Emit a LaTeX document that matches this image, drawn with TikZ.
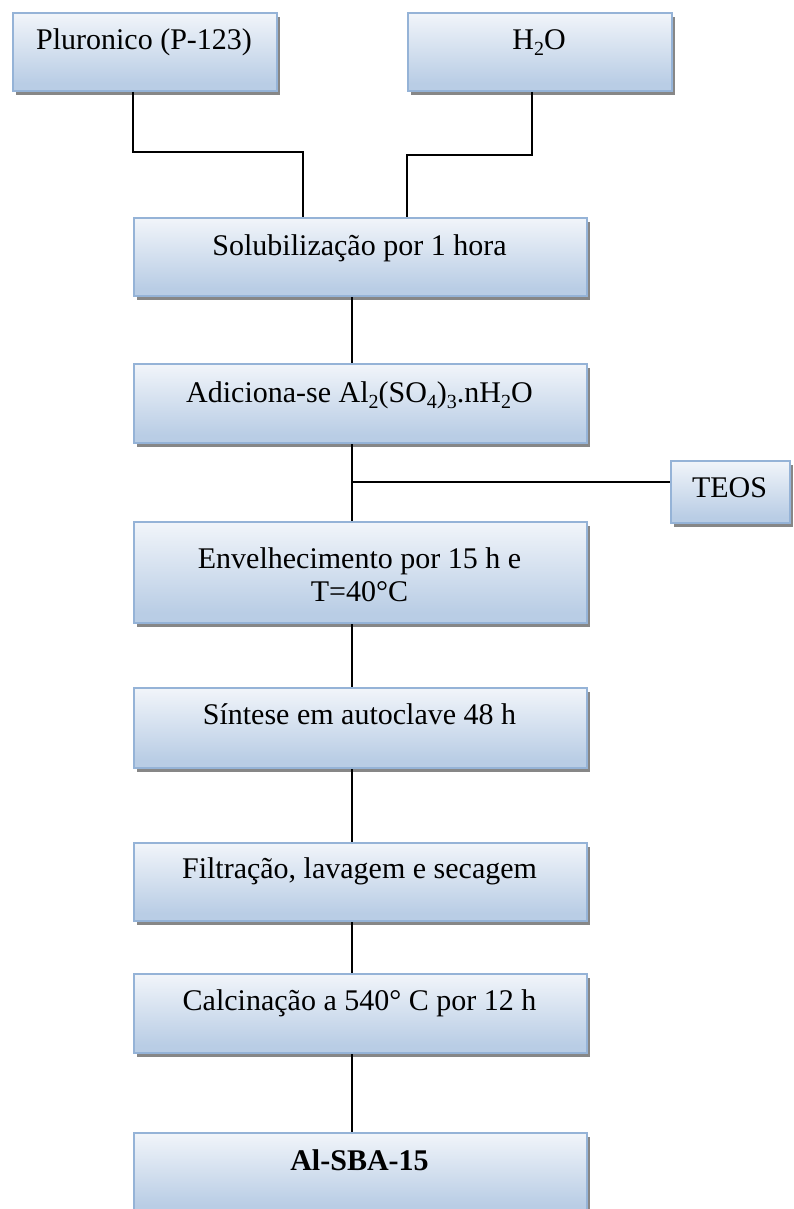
\documentclass[tikz,border=0pt]{standalone}
\usepackage{fontspec}
\setmainfont{Liberation Serif}
\usetikzlibrary{shadows}
\definecolor{boxtop}{RGB}{250,251,253}
\definecolor{boxblue}{RGB}{185,205,229}
\definecolor{boxedge}{RGB}{149,179,215}
\definecolor{shadowgray}{RGB}{135,135,135}
\pgfdeclareverticalshading{boxshade}{100bp}{color(0bp)=(boxblue); color(30bp)=(boxblue); color(82bp)=(boxtop); color(100bp)=(boxtop)}
\newcommand{\sbx}[1]{\raisebox{-0.2em}{\fontsize{20}{20}\selectfont #1}}
\tikzset{
  procbox/.style={draw=boxedge, line width=2pt, shading=boxshade, inner sep=0pt,
    anchor=north west,
    drop shadow={shadow xshift=3pt, shadow yshift=-4pt, fill=shadowgray, opacity=1}},
  txt/.style={font=\fontsize{30}{34}\selectfont, inner sep=0pt, anchor=base, align=center},
  conn/.style={line width=1.5pt, draw=black}
}
\begin{document}
\begin{tikzpicture}[x=1pt,y=-1pt]
\useasboundingbox (0,0) rectangle (794,1209);
% boxes
\node[procbox, minimum width=264pt, minimum height=78pt] (b1) at (12,12) {};
\node[procbox, minimum width=264pt, minimum height=78pt] (b2) at (407,12) {};
\node[procbox, minimum width=453pt, minimum height=78pt] (b3) at (133,217) {};
\node[procbox, minimum width=453pt, minimum height=79pt] (b4) at (133,363) {};
\node[procbox, minimum width=119pt, minimum height=62pt] (b5) at (670,460) {};
\node[procbox, minimum width=453pt, minimum height=101pt] (b6) at (133,521) {};
\node[procbox, minimum width=453pt, minimum height=80pt] (b7) at (133,687) {};
\node[procbox, minimum width=453pt, minimum height=78pt] (b8) at (133,842) {};
\node[procbox, minimum width=453pt, minimum height=79pt] (b9) at (133,973) {};
\node[procbox, minimum width=453pt, minimum height=80pt] (b10) at (133,1132) {};
% texts
\node[txt] (t1) at (144,50) {Pluronico (P-123)};
\node[txt] (t2) at (539,50) {H\sbx{2}O};
\node[txt] (t3) at (359.5,255) {Solubilização por 1 hora};
\node[txt] (t4) at (359.5,402) {Adiciona-se Al\sbx{2}(SO\sbx{4})\sbx{3}.nH\sbx{2}O};
\node[txt] (t5) at (729.5,497) {TEOS};
\node[txt] (t6a) at (359.5,568) {Envelhecimento por 15 h e};
\node[txt] (t6b) at (359.5,601) {T=40°C};
\node[txt] (t7) at (359.5,724) {Síntese em autoclave 48 h};
\node[txt] (t8) at (359.5,878) {Filtração, lavagem e secagem};
\node[txt] (t9) at (359.5,1010) {Calcinação a 540° C por 12 h};
\node[txt] (t10) at (359.5,1170) {\bfseries Al-SBA-15};
% connector helpers
\coordinate (spine) at (352,0);
\coordinate (pl) at (133,0);
\coordinate (pr) at (303,0);
\coordinate (hl) at (532,0);
\coordinate (hr) at (407,0);
\coordinate (jt) at (352,482);
% connectors
\draw[conn] (b1.south -| pl) -- ++(0,60) -| (b3.north -| pr);
\draw[conn] (b2.south -| hl) -- ++(0,63) -| (b3.north -| hr);
\draw[conn] (b3.south -| spine) -- (b4.north -| spine);
\draw[conn] (b4.south -| spine) -- (b6.north -| spine);
\draw[conn] (jt) -- (b5.west |- jt);
\draw[conn] (b6.south -| spine) -- (b7.north -| spine);
\draw[conn] (b7.south -| spine) -- (b8.north -| spine);
\draw[conn] (b8.south -| spine) -- (b9.north -| spine);
\draw[conn] (b9.south -| spine) -- (b10.north -| spine);
\end{tikzpicture}
\end{document}
